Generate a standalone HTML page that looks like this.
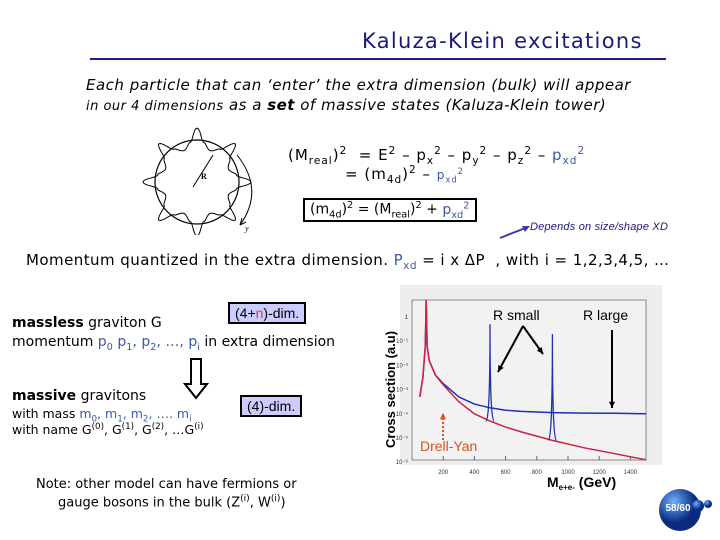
<!DOCTYPE html>
<html><head><meta charset="utf-8"><style>
body{margin:0;width:720px;height:540px;background:#fff;position:relative;overflow:hidden;font-family:"DejaVu Sans","Liberation Sans",sans-serif;color:#000}
.a{position:absolute;white-space:nowrap}
.b{color:#3a5aa8}
sub,sup{font-size:70%}
.box{position:absolute;border:2px solid #000;background:#ccccff;padding:1px 5px;font-family:"Liberation Sans",sans-serif;font-size:14px}
.w{letter-spacing:0.5px}
</style></head><body>
<div class="a" style="left:362px;top:29px;font-size:21px;color:#1a1a7a;letter-spacing:1.3px">Kaluza-Klein excitations</div>
<div class="a" style="left:90px;top:58px;width:576px;height:2px;background:#1a1a9a"></div>
<div class="a w" style="left:86px;top:76px;font-size:15px;font-style:italic">Each particle that can ‘enter’ the extra dimension (bulk) will appear</div>
<div class="a w" style="left:86px;top:96px;font-size:15px;font-style:italic"><span style="font-size:13px">in our 4 dimensions</span> as a <b>set</b> of massive states (Kaluza-Klein tower)</div>

<svg class="a" style="left:125px;top:125px" width="150" height="110" viewBox="0 0 150 110">
<circle cx="72" cy="57" r="42" fill="none" stroke="#000" stroke-width="1.2"/>
<path id="wave" fill="none" stroke="#000" stroke-width="1"/>
<line x1="68" y1="62" x2="88" y2="30" stroke="#000"/>
<text x="76" y="54" font-size="8" font-family="Liberation Serif" font-weight="bold">R</text>
<path d="M112 30 Q140 65 115 100" fill="none" stroke="#000"/>
<path d="M115 100 l2 -7 M115 100 l6 -3" stroke="#000"/>
<text x="120" y="106" font-size="8" font-family="Liberation Serif" font-style="italic">y</text>
</svg>
<script>
(function(){var d='';for(var i=0;i<=240;i++){var t=i/240*2*Math.PI;var s=Math.cos(8*t);var r=40+(s>0?14*Math.pow(s,3):6*s);var x=72+r*Math.sin(t),y=57-r*Math.cos(t);d+=(i?'L':'M')+x.toFixed(1)+' '+y.toFixed(1);}document.getElementById('wave').setAttribute('d',d);})();
</script>

<div class="a" style="left:288px;top:145px;font-size:15px;letter-spacing:1px">(M<sub>real</sub>)<sup>2</sup> &nbsp;= E<sup>2</sup> – p<sub>x</sub><sup>2</sup> – p<sub>y</sub><sup>2</sup> – p<sub>z</sub><sup>2</sup> – <span class="b">p<sub>xd</sub><sup>2</sup></span></div>
<div class="a" style="left:345px;top:164px;font-size:15px;letter-spacing:1px">= (m<sub>4d</sub>)<sup>2</sup> – <span class="b" style="font-size:12px">p<sub>xd</sub><sup>2</sup></span></div>
<div class="a" style="left:303px;top:198px;font-size:14px;border:2px solid #000;padding:0 5px">(m<sub>4d</sub>)<sup>2</sup> = (M<sub>real</sub>)<sup>2</sup> + <span class="b">p<sub>xd</sub><sup>2</sup></span></div>
<svg class="a" style="left:495px;top:222px" width="40" height="20"><line x1="5" y1="16" x2="33" y2="5" stroke="#3a3aa8" stroke-width="2"/><path d="M35 4 l-8 0 l3 6z" fill="#3a3aa8"/></svg>
<div class="a" style="left:530px;top:221px;font-size:11px;font-style:italic;color:#1a1a7a;font-family:'Liberation Sans',sans-serif;letter-spacing:0.2px">Depends on size/shape XD</div>

<div class="a" style="left:26px;top:251px;font-size:15px;letter-spacing:0.45px">Momentum quantized in the extra dimension. <span class="b">P<sub>xd</sub></span> = i x ΔP &nbsp;, with i = 1,2,3,4,5, …</div>

<div class="box" style="left:228px;top:302px">(4+<span style="color:#d04040">n</span>)-dim.</div>
<div class="a" style="left:12px;top:315px;font-size:14px"><b>massless</b> graviton G</div>
<div class="a" style="left:12px;top:334px;font-size:14px">momentum <span class="b">p<sub>0</sub> p<sub>1</sub>, p<sub>2</sub>, …, p<sub>i</sub></span> in extra dimension</div>
<svg class="a" style="left:183px;top:358px" width="26" height="42"><path d="M8 1 H18 V26 H24 L13 40 L2 26 H8 Z" fill="#fff" stroke="#000" stroke-width="2"/></svg>
<div class="a" style="left:12px;top:388px;font-size:14px"><b>massive</b> gravitons</div>
<div class="a" style="left:12px;top:406px;font-size:12.5px">with mass <span class="b">m<sub>0</sub>, m<sub>1</sub>, m<sub>2</sub>, …. m<sub>i</sub></span></div>
<div class="a" style="left:12px;top:422px;font-size:12.5px">with name G<sup>(0)</sup>, G<sup>(1)</sup>, G<sup>(2)</sup>, …G<sup>(i)</sup></div>
<div class="box" style="left:240px;top:395px">(4)-dim.</div>

<div class="a" style="left:36px;top:477px;font-size:13px">Note: other model can have fermions or</div>
<div class="a" style="left:58px;top:494px;font-size:13px">gauge bosons in the bulk (Z<sup>(i)</sup>, W<sup>(i)</sup>)</div>

<svg class="a" id="chart" style="left:0;top:0" width="720" height="540"></svg>
<script>
const massPts=[50,70,85,91,97,110,150,200,300,400,500,600,700,900,1100,1300,1500];
const redLog=[-3.3,-2.5,-1.2,0.8,-1.2,-1.8,-2.4,-2.8,-3.5,-4.0,-4.3,-4.55,-4.75,-5.1,-5.4,-5.65,-5.9];
const blueLog=[-3.3,-2.5,-1.2,0.8,-1.2,-1.8,-2.4,-2.75,-3.3,-3.6,-3.75,-3.85,-3.9,-3.95,-3.97,-3.98,-4.0];
const peakMass=[500,900];
const peakLog=[-0.3,-0.7];
const xTicks=[200,400,600,800,1000,1200,1400];
const yTicks=[0,-1,-2,-3,-4,-5,-6];
const yTickLabels=["1","10⁻¹","10⁻²","10⁻³","10⁻⁴","10⁻⁵","10⁻⁶"];
const NS='http://www.w3.org/2000/svg',svg=document.getElementById('chart');
const X=m=>412+(m/1500)*234, Y=l=>317-l*24.2;
function mk(t,a,p){const e=document.createElementNS(NS,t);for(const k in a)e.setAttribute(k,a[k]);(p||svg).appendChild(e);return e;}
const bg=mk('rect',{x:400,y:285,width:262,height:180,fill:'#eeeeee'});


const fr=mk('rect',{x:412,y:300,width:234,height:160,fill:'#f2f2f2',stroke:'#888','stroke-width':1});


xTicks.forEach(v=>{const t=mk('text',{x:X(v),y:474,'font-size':6,'text-anchor':'middle',fill:'#333','font-family':'Liberation Sans'});t.textContent=v;


mk('line',{x1:X(v),x2:X(v),y1:460,y2:456,stroke:'#666'});});
yTicks.forEach((v,i)=>{const t=mk('text',{x:408,y:Y(v)+2,'font-size':6,'text-anchor':'end',fill:'#333','font-family':'Liberation Sans'});t.textContent=yTickLabels[i];

});
function line(ms,ls,col,name){let d='';ms.forEach((m,i)=>{d+=(i?'L':'M')+X(m).toFixed(1)+' '+Math.max(Y(ls[i]),300).toFixed(1);});
const p=mk('path',{d:d,fill:'none',stroke:col,'stroke-width':1.5});

}
line(massPts,blueLog,'#2030b0','series-r-small');
line(massPts,redLog,'#d02040','series-drell-yan');
function interp(m,arr){for(let i=1;i<massPts.length;i++)if(m<=massPts[i]){const f=(m-massPts[i-1])/(massPts[i]-massPts[i-1]);return arr[i-1]+f*(arr[i]-arr[i-1]);}return arr[arr.length-1];}
peakMass.forEach((m,i)=>{const b=interp(m,redLog);const p=mk('path',{d:'M'+(X(m)-4)+' '+Y(b)+'Q'+X(m)+' '+Y(b)+' '+X(m)+' '+Y(peakLog[i])+'Q'+X(m)+' '+Y(b)+' '+(X(m)+4)+' '+Y(b),fill:'none',stroke:'#2030b0','stroke-width':1.3});

});
function arrow(x1,y1,x2,y2,c,w,name){const g=mk('g',{});
mk('line',{x1:x1,y1:y1,x2:x2,y2:y2,stroke:c,'stroke-width':w,'stroke-dasharray':c=='#000'?'':'2 2'},g);
const a=Math.atan2(y2-y1,x2-x1),L=7;mk('path',{d:`M${x2} ${y2}L${x2-L*Math.cos(a-0.45)} ${y2-L*Math.sin(a-0.45)}L${x2-L*Math.cos(a+0.45)} ${y2-L*Math.sin(a+0.45)}Z`,fill:c},g);}
arrow(523,326,498,372,'#000',2,'r-small-arrow-1');
arrow(523,326,543,354,'#000',2,'r-small-arrow-2');
arrow(612,330,612,408,'#000',2,'r-large-arrow');
arrow(443,440,443,413,'#e05020',2,'drell-yan-arrow');
function txt(x,y,s,sz,c,name,extra){const t=mk('text',Object.assign({x:x,y:y,'font-size':sz,fill:c,'font-family':'Liberation Sans'},extra||{}));t.textContent=s;

return t;}
txt(493,320,'R small',14,'#000','r-small-label');
txt(583,320,'R large',14,'#000','r-large-label');
txt(420,451,'Drell-Yan',14,'#e05020','drell-yan-label');
txt(395,448,'Cross section (a.u)',13,'#000','y-axis-title',{transform:'rotate(-90 395 448)','font-weight':'bold'});
const xt=txt(547,487,'M',14,'#000','x-axis-title',{'font-weight':'bold'});
const s1=mk('tspan',{'font-size':8,dy:3},xt);s1.textContent='e+e-';
const s2=mk('tspan',{dy:-3},xt);s2.textContent=' (GeV)';
</script>
<svg class="a" style="left:650px;top:480px" width="70" height="60">
<defs><radialGradient id="g" cx="0.35" cy="0.3"><stop offset="0" stop-color="#6fb0ff"/><stop offset="1" stop-color="#0a2a80"/></radialGradient></defs>
<circle cx="30" cy="30" r="21" fill="url(#g)"/><circle cx="48" cy="26" r="6" fill="url(#g)"/><circle cx="58" cy="24" r="4" fill="url(#g)"/>
<text x="28" y="31" font-size="10" fill="#fff" text-anchor="middle" font-weight="bold" font-family="Liberation Sans">58/60</text></svg>
</body></html>
